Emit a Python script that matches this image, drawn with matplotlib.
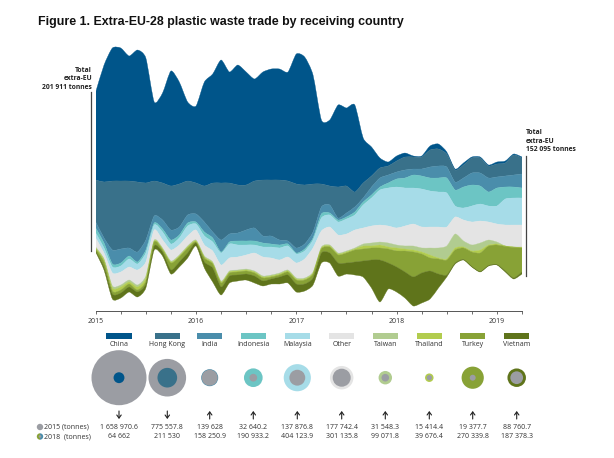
import numpy as np
import matplotlib
matplotlib.use("Agg")
import matplotlib.pyplot as plt
from matplotlib.path import Path
from matplotlib.patches import PathPatch, Circle, Wedge, Rectangle

# Stream edges, one value per month from Jan 2015 to Apr 2019
china_top = [92,65,48,48,56,50,58,102,93,71,82,102,106,82,74,60,72,65,72,79,72,69,69,72,54,57,75,120,120,105,108,105,138,147,158,162,156,153,156,156,146,144,152,169,163,157,157,165,162,161,154,157]
china_bottom = [180,182,181,181,181,182,183,181,183,186,184,181,183,186,183,183,183,185,185,181,180,180,180,181,184,185,184,184,186,187,186,192,183,176,168,166,161,157,157,157,150,149,154,170,165,158,158,166,164,163,155,158]
hong_kong_bottom = [222,238,250,249,248,252,240,216,220,230,227,215,214,222,232,240,234,233,230,228,236,236,240,241,248,244,232,207,205,218,213,207,198,187,178,175,172,170,169,169,167,166,167,182,178,173,173,178,177,176,175,174]
india_bottom = [228,243,264,263,256,262,250,223,229,240,235,223,222,232,238,252,242,241,241,241,243,244,245,244,253,249,238,214,213,220,217,212,202,195,187,183,179,178,175,176,178,178,178,190,187,185,186,192,188,187,187,188]
indonesia_bottom = [233,248,267,266,259,264,253,225,232,244,238,226,224,236,242,253,244,245,245,245,247,247,248,246,254,251,240,218,215,222,219,215,205,198,190,188,187,188,188,189,191,192,193,206,208,206,204,206,206,199,198,198]
malaysia_bottom = [238,253,273,272,267,270,262,230,240,250,245,236,230,245,251,265,258,257,255,253,257,258,260,257,263,259,248,231,227,235,234,230,228,226,225,226,228,226,224,227,227,227,227,217,220,222,221,222,224,225,225,225]
other_bottom = [247,259,286,285,280,285,276,240,248,261,255,246,240,256,262,281,271,270,269,271,276,275,273,270,278,278,272,247,245,253,251,248,244,243,242,243,245,246,246,248,248,248,246,234,241,245,243,240,242,246,247,247]
taiwan_bottom = [248,260,288,287,282,287,278,241,249,262,256,247,241,257,263,282,272,271,270,272,277,276,274,271,279,279,273,248,246,254,252,249,246,246,245,247,248,249,250,252,255,258,259,248,247,251,250,245,244,246,247,247.5]
thailand_bottom = [249,262,291,290,284,290,281,242,250,263,257,248,242,258,264,283,273,272,271,273,278,277,275,272,280,280,274,249,247,255,253,250,249,248,248,249,251,251,252,254,258,259,260,250,248,252,253,246,245,246.5,247.5,248]
turkey_bottom = [251,267,294,293,287,292,284,246,252,270,262,253,243,262,268,287,276,275,274,276,281,279,277,275,284,284,278,253,253,263,263,262,261,260,260,263,267,272,277,273,271,274,275,263,259.5,266.5,271.5,265.5,264.5,271,278,272]
vietnam_bottom = [252,270,299,298,292,297,288,250,256,274,267,258,246,268,282,295,283,281,280,283,286,284,284,283,292,291,285,263,263,276,274,275,277,288,302,289,292,298,306,303,299,288,277,264,260,267,272,266,265,272,279,274]

countries = ["China","Hong Kong","India","Indonesia","Malaysia","Other","Taiwan","Thailand","Turkey","Vietnam"]
colors = ["#00558A","#39718A","#4A8DAB","#6CC5C4","#A6DCE8","#E4E4E4","#B1CC90","#B2CC4E","#88A236","#5F741B"]
tonnes_2015 = [1658970.6,775557.8,139628,32640.2,137876.8,177742.4,31548.3,15414.4,19377.7,88760.7]
tonnes_2018 = [64662,211530,158250.9,190933.2,404123.9,301135.8,99071.8,39676.4,270339.8,187378.3]
labels_2015 = ["1 658 970.6","775 557.8","139 628","32 640.2","137 876.8","177 742.4","31 548.3","15 414.4","19 377.7","88 760.7"]
labels_2018 = ["64 662","211 530","158 250.9","190 933.2","404 123.9","301 135.8","99 071.8","39 676.4","270 339.8","187 378.3"]
year_labels = ["2015","2016","2017","2018","2019"]

edges = [china_top,china_bottom,hong_kong_bottom,india_bottom,indonesia_bottom,malaysia_bottom,
         other_bottom,taiwan_bottom,thailand_bottom,turkey_bottom,vietnam_bottom]
W, H = 614, 458
FONT = "Open Sans"
GREY = "#9B9DA3"
TXT = "#333333"

def band_path(x, up, lo, k=1/9):
    """Closed path through the two edges, using smooth Bezier segments."""
    def seg(xs, ys):
        xs, ys = np.asarray(xs, float), np.asarray(ys, float)
        vs, cs = [], []
        for i in range(len(xs) - 1):
            p0 = max(i - 1, 0); p3 = min(i + 2, len(xs) - 1)
            vs += [(xs[i] + (xs[i+1] - xs[p0]) * k, ys[i] + (ys[i+1] - ys[p0]) * k),
                   (xs[i+1] - (xs[p3] - xs[i]) * k, ys[i+1] - (ys[p3] - ys[i]) * k),
                   (xs[i+1], ys[i+1])]
            cs += [Path.CURVE4] * 3
        return vs, cs
    v1, c1 = seg(x, up)
    v2, c2 = seg(x[::-1], lo[::-1])
    verts = [(x[0], up[0])] + v1 + [(x[-1], lo[-1])] + v2 + [(x[0], up[0])]
    codes = [Path.MOVETO] + c1 + [Path.LINETO] + c2 + [Path.CLOSEPOLY]
    return Path(verts, codes)

fig = plt.figure(figsize=(W/100, H/100), dpi=100, facecolor="white")

# Stream panel
ax = fig.add_axes([95.7/W, 1 - 311/H, (522 - 95.7)/W, (311 - 40)/H])
months = np.arange(len(china_top))
for i, col in enumerate(colors):
    ax.add_patch(PathPatch(band_path(months, edges[i], edges[i+1]), fc=col, ec=col, lw=0.25))
ax.set_xlim(0, 51)
ax.set_ylim(311, 40)
ax.patch.set_alpha(0)
for s in ["top", "left", "right"]:
    ax.spines[s].set_visible(False)
ax.spines["bottom"].set_color("#555555")
ax.spines["bottom"].set_linewidth(0.7)
ax.set_yticks([])
ax.set_xticks(np.arange(0, 52, 3))
ax.set_xticklabels([year_labels[t // 12] if t % 12 == 0 else "" for t in range(0, 52, 3)],
                   fontsize=5, family=FONT, color=TXT)
ax.tick_params(axis="x", length=2.2, width=0.6, color="#555555", pad=2.6)

# Overlay in picture coordinates
ov = fig.add_axes([0, 0, 1, 1])
ov.set_xlim(0, W); ov.set_ylim(H, 0); ov.axis("off"); ov.patch.set_alpha(0)

ov.text(38, 22.5, "Figure 1. Extra-EU-28 plastic waste trade by receiving country",
        family="Liberation Sans", fontweight="bold", fontsize=8.9, color="#111111", va="center", ha="left")

for y, s in zip([70.5, 79, 87.3], ["Total", "extra-EU", "201 911 tonnes"]):
    ov.text(92, y, s, family=FONT, fontweight="bold", fontsize=4.9, color="#222222", ha="right", va="center")
for y, s in zip([133, 141.5, 149.7], ["Total", "extra-EU", "152 095 tonnes"]):
    ov.text(526, y, s, family=FONT, fontweight="bold", fontsize=4.9, color="#222222", ha="left", va="center")
ov.plot([90.5, 90.5], [92, 251], color="#444444", lw=0.9)
ov.plot([525.7, 525.7], [156, 276], color="#444444", lw=0.9)

centers = [119, 167.3, 209.7, 253.3, 297.3, 341.7, 385.3, 429.3, 472.7, 516.7]
R_MAX = 27.5
V_MAX = max(tonnes_2015)
for cx, name, col, a, b, la, lb in zip(centers, countries, colors, tonnes_2015, tonnes_2018, labels_2015, labels_2018):
    ov.add_patch(Rectangle((cx - 12.6, 333.3), 25.2, 6, fc=col, ec="none"))
    ov.text(cx, 345, name, family=FONT, fontsize=5, color=TXT, ha="center", va="center")
    ra, rb = R_MAX * np.sqrt(a / V_MAX), R_MAX * np.sqrt(b / V_MAX)
    pair = [(ra, GREY), (rb, col)] if ra > rb else [(rb, col), (ra, GREY)]
    for r, c in pair:
        ov.add_patch(Circle((cx, 377.7), r, fc=c, ec="none"))
    up = b > a
    y0, y1 = (419, 411) if up else (411, 419)
    ov.annotate("", xy=(cx, y1), xytext=(cx, y0),
                arrowprops=dict(arrowstyle="->,head_length=0.22,head_width=0.16", color="#222222", lw=0.8,
                                shrinkA=0, shrinkB=0))
    ov.text(cx, 427.7, la, family=FONT, fontsize=5, color=TXT, ha="center", va="center")
    ov.text(cx, 436.7, lb, family=FONT, fontsize=5, color=TXT, ha="center", va="center")

# Row keys
ov.add_patch(Circle((40, 427), 3.2, fc=GREY, ec="none"))
ov.text(44.5, 427, "2015 (tonnes)", family=FONT, fontsize=5, color=TXT, ha="left", va="center")
ov.add_patch(Wedge((40, 436.5), 3.2, 90, 270, fc=colors[8], ec="none"))
ov.add_patch(Wedge((40, 436.5), 3.2, 270, 90, fc=colors[2], ec="none"))
ov.add_patch(Circle((40, 436.5), 1.3, fc=GREY, ec="none"))
ov.text(44.5, 436.7, "2018  (tonnes)", family=FONT, fontsize=5, color=TXT, ha="left", va="center")

fig.savefig("out.png", dpi=100, facecolor="white")
